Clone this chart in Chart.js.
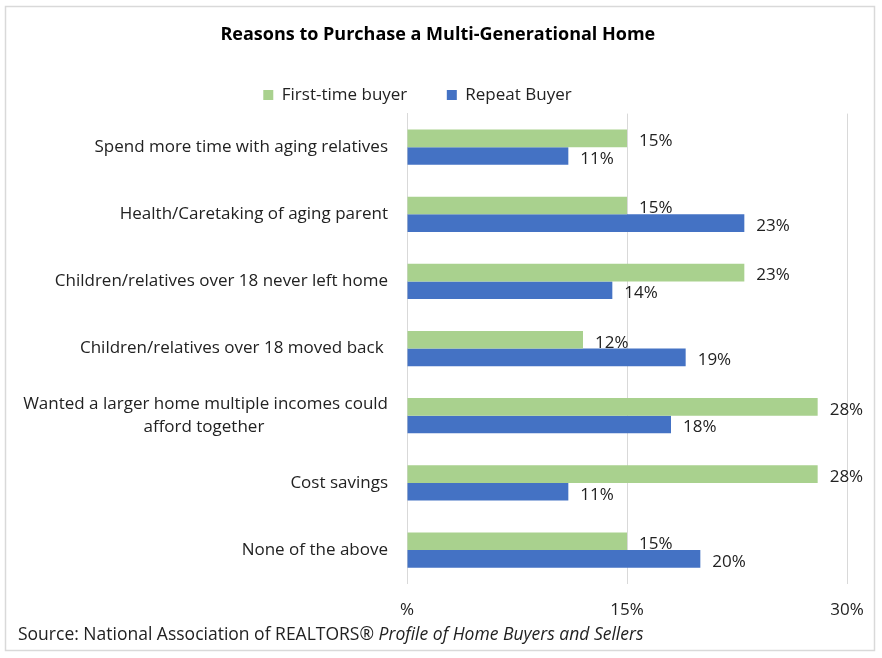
<!DOCTYPE html>
<html>
<head>
<meta charset="utf-8">
<script src="https://cdn.jsdelivr.net/npm/chart.js@4"></script>
<style>
  html, body { margin: 0; padding: 0; background: #fff; }
  #wrap { width: 882px; height: 658px; }
</style>
</head>
<body>
<div id="wrap"><canvas id="myCanvas" width="882" height="658"></canvas></div>
<script>
var categories = [
  'Spend more time with aging relatives',
  'Health/Caretaking of aging parent',
  'Children/relatives over 18 never left home',
  'Children/relatives over 18 moved back ',
  ['Wanted a larger home multiple incomes could', 'afford together'],
  'Cost savings',
  'None of the above'
];
var firstTime = [15, 15, 23, 12, 28, 28, 15];
var repeatBuyer = [11, 23, 14, 19, 18, 11, 20];
var tickLabels = ['%', '15%', '30%'];

var FONT = '"Open Sans", "Noto Sans", sans-serif';
var TEXT = '#222';
var FS = 17;

// center the second line of a wrapped label under the first one
var mctx = document.createElement('canvas').getContext('2d');
mctx.font = FS + 'px ' + FONT;
categories = categories.map(function (c) {
  if (!Array.isArray(c)) return c;
  var w1 = mctx.measureText(c[0]).width;
  var w2 = mctx.measureText(c[1]).width;
  var sp = mctx.measureText(' ').width;
  var n = Math.round((w1 - w2) / 2 / sp);
  return [c[0], c[1] + ' '.repeat(n)];
});

var frame = {
  id: 'frame',
  beforeDraw: function (chart) {
    var ctx = chart.ctx;
    ctx.save();
    ctx.fillStyle = '#fff';
    ctx.fillRect(0, 0, chart.width, chart.height);
    ctx.strokeStyle = '#d9d9d9';
    ctx.lineWidth = 1.5;
    ctx.strokeRect(5.5, 6.5, 869, 644);
    ctx.restore();
  },
  afterDraw: function (chart) {
    var ctx = chart.ctx;
    ctx.save();
    ctx.fillStyle = TEXT;
    ctx.textBaseline = 'middle';
    ctx.textAlign = 'left';
    ctx.font = '17.5px ' + FONT;
    var a = 'Source: National Association of REALTORS\u00AE ';
    ctx.fillText(a, 18, 635);
    var w = ctx.measureText(a).width;
    ctx.font = 'italic 17.5px ' + FONT;
    ctx.fillText('Profile of Home Buyers and Sellers', 18 + w, 635);
    ctx.restore();
  }
};

var valueLabels = {
  id: 'valueLabels',
  afterDatasetsDraw: function (chart) {
    var ctx = chart.ctx;
    ctx.save();
    ctx.fillStyle = TEXT;
    ctx.font = FS + 'px ' + FONT;
    ctx.textAlign = 'left';
    ctx.textBaseline = 'middle';
    chart.data.datasets.forEach(function (ds, i) {
      chart.getDatasetMeta(i).data.forEach(function (el, j) {
        ctx.fillText(ds.data[j] + '%', el.x + 12, el.y + 3);
      });
    });
    ctx.restore();
  }
};

var c = document.getElementById('myCanvas');
var ctx = c.getContext('2d');

const barChart = new Chart(ctx, {
  type: 'bar',
  data: {
    labels: categories,
    datasets: [{
      label: 'First-time buyer',
      data: firstTime,
      backgroundColor: '#a9d18e',
      categoryPercentage: 0.525,
      barPercentage: 1
    }, {
      label: 'Repeat Buyer',
      data: repeatBuyer,
      backgroundColor: '#4472c4',
      categoryPercentage: 0.525,
      barPercentage: 1
    }]
  },
  options: {
    indexAxis: 'y',
    responsive: false,
    animation: false,
    layout: { padding: { left: 10, right: 35, top: 0, bottom: 22 } },
    scales: {
      x: {
        min: 0,
        max: 30,
        ticks: {
          stepSize: 15,
          padding: 16,
          color: TEXT,
          font: { family: FONT, size: FS },
          callback: function (v, i) { return tickLabels[i]; }
        },
        grid: { color: '#d9d9d9', drawTicks: false },
        border: { display: false }
      },
      y: {
        afterFit: function (scale) { scale.width = 397; },
        ticks: {
          padding: 19,
          color: TEXT,
          font: { family: FONT, size: FS, lineHeight: 1.35 }
        },
        grid: { display: false, drawTicks: false },
        border: { display: true, color: '#d9d9d9' }
      }
    },
    plugins: {
      title: {
        display: true,
        text: '    Reasons to Purchase a Multi-Generational Home',
        color: '#000',
        font: { family: FONT, size: 18, weight: 'bold' },
        padding: { top: 24, bottom: 28 }
      },
      legend: {
        position: 'top',
        labels: {
          boxWidth: 10,
          boxHeight: 10,
          padding: 13,
          color: TEXT,
          font: { family: FONT, size: FS },
          generateLabels: function (chart) {
            var items = Chart.defaults.plugins.legend.labels.generateLabels(chart);
            items[0].text += '      ';
            items[1].text += '     ';
            return items;
          }
        }
      },
      tooltip: { enabled: false }
    }
  },
  plugins: [frame, valueLabels]
});
</script>
</body>
</html>
